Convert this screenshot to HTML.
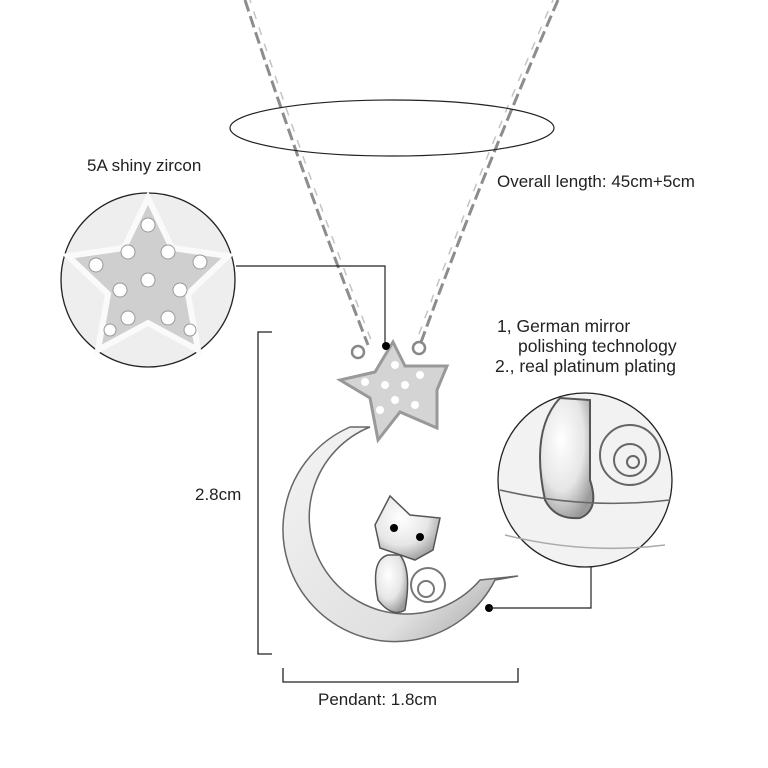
<!DOCTYPE html>
<html><head><style>
html,body{margin:0;padding:0;background:#fff;}
svg{display:block}
text{font-family:"Liberation Sans",sans-serif;fill:#222;}
</style></head><body>
<svg width="768" height="768" viewBox="0 0 768 768" xmlns="http://www.w3.org/2000/svg">
<defs>
<radialGradient id="sil" cx="40%" cy="35%" r="70%"><stop offset="0" stop-color="#fff"/><stop offset="0.6" stop-color="#e6e6e6"/><stop offset="1" stop-color="#9a9a9a"/></radialGradient>
<linearGradient id="moon" x1="0" y1="0" x2="1" y2="1"><stop offset="0" stop-color="#f4f4f4"/><stop offset="0.7" stop-color="#e0e0e0"/><stop offset="1" stop-color="#999"/></linearGradient>
</defs>
<!-- chains -->
<g stroke="#8d8d8d" stroke-width="3" fill="none" stroke-dasharray="12 5">
<path d="M245 0 Q300 170 368 345"/>
<path d="M558 0 Q480 180 420 345"/>
</g>
<g stroke="#c4c4c4" stroke-width="1.5" fill="none" stroke-dasharray="8 9" stroke-dashoffset="5">
<path d="M250 0 Q305 170 373 345"/>
<path d="M553 0 Q475 180 415 345"/>
</g>
<!-- ellipse -->
<ellipse cx="392" cy="128" rx="162" ry="28" fill="none" stroke="#222" stroke-width="1.2"/>
<text x="87" y="171" font-size="17">5A shiny zircon</text>
<text x="497" y="187" font-size="17">Overall length: 45cm+5cm</text>
<!-- left zoom circle -->
<circle cx="148" cy="280" r="87" fill="#eee" stroke="#222" stroke-width="1.3"/>
<path d="M148 198 L172 248 L228 256 L188 294 L198 350 L148 323 L98 350 L108 294 L68 256 L124 248Z" fill="#cfcfcf" stroke="#fafafa" stroke-width="6"/>
<g fill="#fff" stroke="#999" stroke-width="1">
<circle cx="148" cy="225" r="7"/><circle cx="128" cy="252" r="7"/><circle cx="168" cy="252" r="7"/>
<circle cx="200" cy="262" r="7"/><circle cx="96" cy="265" r="7"/><circle cx="148" cy="280" r="7"/>
<circle cx="120" cy="290" r="7"/><circle cx="180" cy="290" r="7"/><circle cx="128" cy="318" r="7"/>
<circle cx="168" cy="318" r="7"/><circle cx="110" cy="330" r="6"/><circle cx="190" cy="330" r="6"/>
</g>
<polyline points="236,266 385,266 385,345" fill="none" stroke="#222" stroke-width="1.2"/>
<!-- dimension lines -->
<polyline points="272,332 258,332 258,654 272,654" fill="none" stroke="#222" stroke-width="1.3"/>
<polyline points="283,668 283,682 518,682 518,668" fill="none" stroke="#222" stroke-width="1.3"/>
<text x="195" y="500" font-size="17">2.8cm</text>
<text x="318" y="705" font-size="17">Pendant: 1.8cm</text>
<!-- moon -->
<path d="M350 427 A112 112 0 1 0 495 580 L518 576 L480 580 A97 97 0 1 1 370 427 Z" fill="url(#moon)" stroke="#666" stroke-width="1.5"/>
<!-- star -->
<path d="M393 342 L405 366 L447 366 L437 390 L437 428 L400 412 L378 440 L370 398 L340 380 L375 372Z" fill="#d4d4d4" stroke="#999" stroke-width="3"/>
<g fill="#fff"><circle cx="395" cy="365" r="4"/><circle cx="385" cy="385" r="4"/><circle cx="405" cy="385" r="4"/><circle cx="420" cy="375" r="4"/><circle cx="365" cy="382" r="4"/><circle cx="395" cy="400" r="4"/><circle cx="415" cy="405" r="4"/><circle cx="380" cy="410" r="4"/></g>
<circle cx="358" cy="352" r="6" fill="none" stroke="#888" stroke-width="2.5"/>
<circle cx="419" cy="348" r="6" fill="none" stroke="#888" stroke-width="2.5"/>
<circle cx="386" cy="346" r="4" fill="#000"/>
<!-- cat -->
<path d="M378 600 Q370 560 388 555 L400 555 Q412 570 405 610 Q392 618 378 600Z" fill="url(#sil)" stroke="#555" stroke-width="1.5"/>
<path d="M375 525 L390 496 L410 515 L440 518 L433 550 L415 560 L380 548Z" fill="url(#sil)" stroke="#555" stroke-width="1.5"/>
<circle cx="394" cy="528" r="4" fill="#000"/><circle cx="420" cy="537" r="4" fill="#000"/>
<g fill="none" stroke="#777" stroke-width="2"><circle cx="428" cy="585" r="17"/><circle cx="426" cy="589" r="8"/></g>
<circle cx="489" cy="608" r="4" fill="#000"/>
<polyline points="489,608 591,608 591,567" fill="none" stroke="#222" stroke-width="1.2"/>
<!-- right text -->
<text font-size="17.5"><tspan x="497" y="332">1,  German mirror</tspan><tspan x="518" y="352">polishing technology</tspan><tspan x="495" y="372">2., real platinum plating</tspan></text>
<!-- right zoom circle -->
<circle cx="585" cy="480" r="87" fill="#f2f2f2" stroke="#222" stroke-width="1.3"/>
<path d="M560 398 Q530 430 545 500 Q555 520 580 518 Q600 510 590 480 L590 400Z" fill="url(#sil)" stroke="#555" stroke-width="2"/>
<g fill="none" stroke="#666" stroke-width="2"><circle cx="630" cy="455" r="30"/><circle cx="630" cy="460" r="16"/><circle cx="633" cy="462" r="6"/></g>
<path d="M500 490 Q585 510 670 500" fill="none" stroke="#666" stroke-width="1.5"/>
<path d="M505 535 Q585 555 665 545" fill="none" stroke="#aaa" stroke-width="1.5"/>
</svg>
</body></html>
